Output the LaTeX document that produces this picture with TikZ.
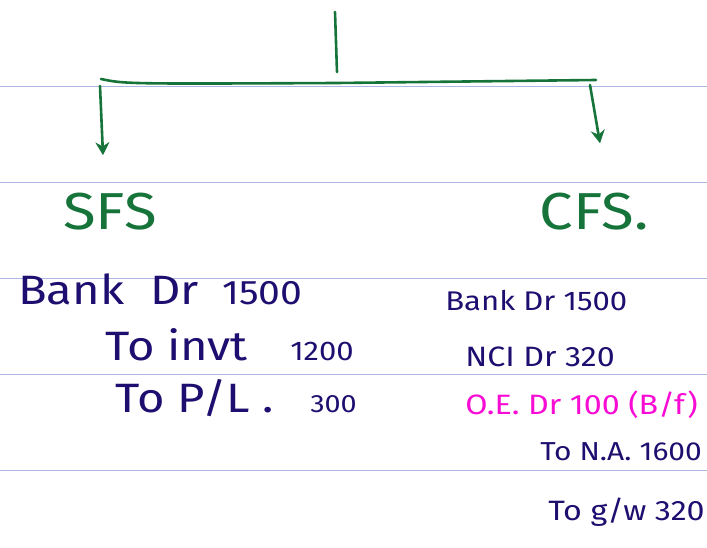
\documentclass[tikz,border=0pt]{standalone}
\usepackage{fontspec}
\setmainfont{Fira Sans}[FakeStretch=1.15]
\usepackage{tikz}
\usetikzlibrary{arrows.meta}
\usetikzlibrary{calc}
\usetikzlibrary{positioning}
\definecolor{rule}{RGB}{172,182,226}
\definecolor{ink}{RGB}{30,14,112}
\definecolor{pen}{RGB}{22,116,58}
\definecolor{pink}{RGB}{248,12,212}

\begin{document}
\begin{tikzpicture}[x=1pt,y=-1pt,semithick]
 \tikzstyle{entry}=[text=ink, anchor=base west, inner sep=0pt, font=\fontsize{41}{46}\selectfont]
 \tikzstyle{small entry}=[entry, font=\fontsize{28}{34}\selectfont]
 \tikzstyle{head}=[text=pen, anchor=base, inner sep=0pt, font=\fontsize{52}{58}\selectfont]
 \tikzstyle{branch}=[draw=pen, line width=2.6pt, line cap=round, line join=round]
 \useasboundingbox (0,0) rectangle (707,548);
 % ruled paper
 \foreach \y in {86,182,278,374,470}
   \draw[rule, line width=0.9pt] (0,\y) -- (707,\y);
 % SFS / CFS
 \node[head] (SFS) at (110,230) {SFS};
 \node[head] (CFS) at (594,230) {CFS.};
 \coordinate (root) at (335,12);
 \coordinate (fork) at (337,72);
 \coordinate (barL) at (101,79);
 \coordinate (barR) at (596,80);
 \draw[branch] (root) -- (fork);
 \draw[branch] (barL) .. controls (125,84) .. (337,83) -- (barR);
 \draw[branch,-{Stealth[length=13pt,width=14pt]}] (100,86) -- ([xshift=-7pt,yshift=38pt]SFS.north);
 \draw[branch,-{Stealth[length=13pt,width=14pt]}] (590,85) -- ([xshift=6pt,yshift=50pt]CFS.north);
 % SFS entries
 \node[entry] (bankL) at (18,305) {Bank};
 \node[entry] (drL) at (150,305) {Dr};
 \node[small entry, font=\fontsize{34}{40}\selectfont] (cashL) at (222,305) {1500};
 \node[entry] (invt) at (105,360) {To invt};
 \node[small entry, font=\fontsize{27}{32}\selectfont] (invtAmt) at (290,360) {1200};
 \node[entry] (pl) at (115,412) {To P/L .};
 \node[small entry, font=\fontsize{25}{30}\selectfont] (plAmt) at (310,412) {300};
 % CFS entries
 \node[small entry, font=\fontsize{27}{32}\selectfont] (bankR) at (445,310) {Bank Dr 1500};
 \node[small entry] (nci) at (465,366) {NCI Dr 320};
 \node[small entry, text=pink] (oe) at (465,414) {O.E. Dr 100 (B/f)};
 \node[small entry, font=\fontsize{26}{31}\selectfont] (na) at (540,460) {To N.A. 1600};
 \node[small entry] (gw) at (548,520) {To g/w 320};
\end{tikzpicture}
\end{document}
